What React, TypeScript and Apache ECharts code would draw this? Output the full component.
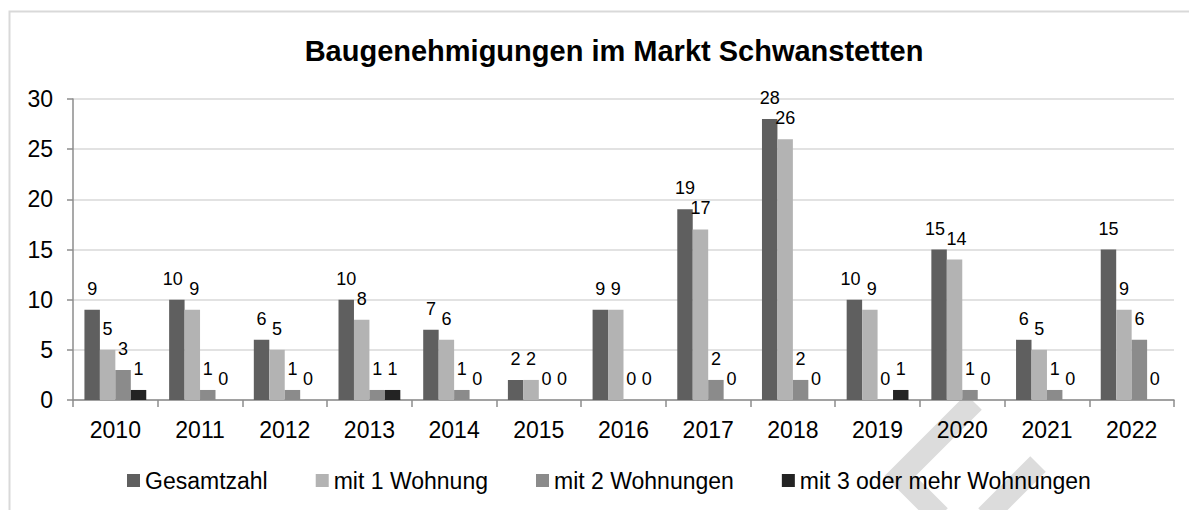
import React, { useEffect, useRef } from "react";
import * as echarts from "echarts";

const categories = ["2010", "2011", "2012", "2013", "2014", "2015", "2016", "2017", "2018", "2019", "2020", "2021", "2022"];
const gesamtzahl = [9, 10, 6, 10, 7, 2, 9, 19, 28, 10, 15, 6, 15];
const mit1 = [5, 9, 5, 8, 6, 2, 9, 17, 26, 9, 14, 5, 9];
const mit2 = [3, 1, 1, 1, 1, 0, 0, 2, 2, 0, 1, 1, 6];
const mit3 = [1, 0, 0, 1, 0, 0, 0, 0, 0, 1, 0, 0, 0];
const seriesNames = ["Gesamtzahl", "mit 1 Wohnung", "mit 2 Wohnungen", "mit 3 oder mehr Wohnungen"];
const seriesColors = ["#5f5f5f", "#b3b3b3", "#8b8b8b", "#232323"];
const yTicks = { min: 0, max: 30, interval: 5 };

const FONT = "'Liberation Sans', Arial, sans-serif";

export default function App() {
  const ref = useRef<HTMLDivElement>(null);
  useEffect(() => {
    document.body.style.margin = "0";
    const chart = echarts.init(ref.current!, null, { renderer: "svg" });
    const values = [gesamtzahl, mit1, mit2, mit3];
    // nudge neighbouring two-digit labels apart when they sit at nearly the same height
    const crowded = (i: number) => gesamtzahl[i] >= 10 && Math.abs(gesamtzahl[i] - mit1[i]) <= 1;
    const seriesData = values.map((arr, s) =>
      arr.map((v, i) => {
        if (crowded(i) && (s === 0 || s === 1)) {
          return { value: v, label: { offset: [s === 0 ? -4 : 2, 0] } };
        }
        return v;
      })
    );
    chart.setOption({
      animation: false,
      textStyle: { fontFamily: FONT },
      title: {
        text: "Baugenehmigungen im Markt Schwanstetten",
        left: 609,
        top: 31,
        textAlign: "center",
        textStyle: { fontFamily: FONT, fontSize: 29, fontWeight: "bold", color: "#000" },
      },
      legend: {
        left: 122,
        top: 464,
        icon: "rect",
        itemWidth: 13,
        itemHeight: 13,
        itemGap: 48,
        textStyle: { fontFamily: FONT, fontSize: 23, color: "#000" },
        data: seriesNames,
      },
      grid: { left: 73, right: 15, top: 99, bottom: 110, containLabel: false },
      xAxis: {
        type: "category",
        data: categories,
        axisLine: { lineStyle: { color: "#8c8c8c", width: 1.5 } },
        axisTick: { show: true, length: 7, interval: 0, lineStyle: { color: "#8c8c8c", width: 1.5 } },
        axisLabel: { fontFamily: FONT, fontSize: 23, color: "#000", margin: 18, interval: 0 },
      },
      yAxis: {
        type: "value",
        min: yTicks.min,
        max: yTicks.max,
        interval: yTicks.interval,
        axisLine: { show: true, lineStyle: { color: "#8c8c8c", width: 1.5 } },
        axisTick: { show: true, length: 6, lineStyle: { color: "#8c8c8c", width: 1.5 } },
        axisLabel: { fontFamily: FONT, fontSize: 23, color: "#000", margin: 20 },
        splitLine: { lineStyle: { color: "#d9d9d9", width: 1.5 } },
      },
      series: seriesNames.map((name, i) => ({
        name,
        type: "bar",
        data: seriesData[i],
        barGap: "0%",
        barCategoryGap: "27%",
        itemStyle: { color: seriesColors[i] },
        label: {
          show: true,
          position: "top",
          distance: 12,
          fontFamily: FONT,
          fontSize: 18,
          color: "#000",
        },
      })),
      graphic: [
        {
          type: "rect",
          z: -10,
          shape: { x: 9.5, y: 11.5, width: 1250, height: 560 },
          style: { fill: "none", stroke: "#d9d9d9", lineWidth: 2 },
          silent: true,
        },
        {
          type: "polyline",
          z: -5,
          shape: { points: [[974, 402], [900, 476], [940, 516]] },
          style: { fill: "none", stroke: "#dcdcdc", lineWidth: 22, lineJoin: "miter" },
          silent: true,
        },
        {
          type: "line",
          z: -5,
          shape: { x1: 1038, y1: 464, x2: 986, y2: 516 },
          style: { stroke: "#dcdcdc", lineWidth: 22 },
          silent: true,
        },
      ],
    });
    return () => chart.dispose();
  }, []);
  return <div ref={ref} style={{ width: 1189, height: 510 }} />;
}
